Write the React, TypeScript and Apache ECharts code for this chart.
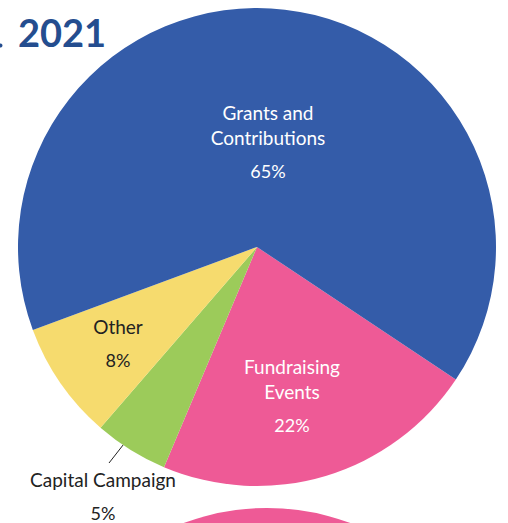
import React, { useEffect, useRef } from "react";
import * as echarts from "echarts";

const categories = ["Fundraising Events", "Capital Campaign", "Other", "Grants and Contributions"];
const shortNames = ["Fundraising\nEvents", "Capital Campaign", "Other", "Grants and\nContributions"];
const values = [22, 5, 8, 65];
const colors = ["#EE5A96", "#9CCB5A", "#F6DB6E", "#345CA9"];
const labelColors = ["#ffffff", "#222222", "#222222", "#ffffff"];
const titleText = "2021";

export default function App() {
  const ref = useRef<HTMLDivElement>(null);
  useEffect(() => {
    if (!ref.current) return;
    const chart = echarts.init(ref.current, undefined, { renderer: "svg" });
    const labelPos: Record<number, [number, number]> = {
      0: [292, 400],
      1: [103, 500],
      2: [118, 347],
      3: [268, 146],
    };
    const pctStyle = (c: string) => ({ color: c, fontFamily: "Lato", fontSize: 18, lineHeight: 42 });
    chart.setOption({
      animation: false,
      graphic: [
        {
          type: "text",
          left: 18,
          top: 13,
          style: { text: titleText, fontSize: 38, fontWeight: "bold", fill: "#244D8F", fontFamily: "Lato" },
        },
        {
          type: "circle",
          shape: { cx: 0.5, cy: 45.5, r: 2 },
          style: { fill: "#244D8F" },
        },
        {
          type: "circle",
          shape: { cx: 267, cy: 747, r: 239 },
          style: { fill: colors[0] },
          z: -1,
        },
      ],
      series: [
        {
          type: "pie",
          center: [257, 247],
          radius: 239,
          startAngle: -33.7,
          clockwise: true,
          silent: true,
          itemStyle: { borderWidth: 0 },
          label: {
            show: true,
            position: "inside",
            fontFamily: "Lato",
            fontSize: 19,
            lineHeight: 25,
            overflow: "none",
            formatter: (p: any) => `${shortNames[p.dataIndex]}\n{pct|${p.value}%}`,
          },
          labelLine: { show: false },
          labelLayout: (params: any) => {
            const i = params.dataIndex;
            const pos = labelPos[i];
            const out: any = { x: pos[0], y: pos[1], align: "center", verticalAlign: "middle" };
            if (i === 1) out.labelLinePoints = [[127, 440], [109, 463], [109, 463]];
            return out;
          },
          data: categories.map((name, i) => ({
            name,
            value: values[i],
            itemStyle: { color: colors[i] },
            label:
              i === 1
                ? {
                    position: "outside",
                    overflow: "none",
                    width: 200,
                    color: labelColors[i],
                    rich: { pct: pctStyle(labelColors[i]) },
                  }
                : {
                    color: labelColors[i],
                    rich: { pct: pctStyle(labelColors[i]) },
                  },
            labelLine: i === 1 ? { show: true, lineStyle: { color: "#222", width: 1 } } : { show: false },
          })),
        },
      ],
    });
    return () => chart.dispose();
  }, []);
  return <div ref={ref} style={{ position: "fixed", left: 0, top: 0, width: 508, height: 523, background: "#fff" }} />;
}
